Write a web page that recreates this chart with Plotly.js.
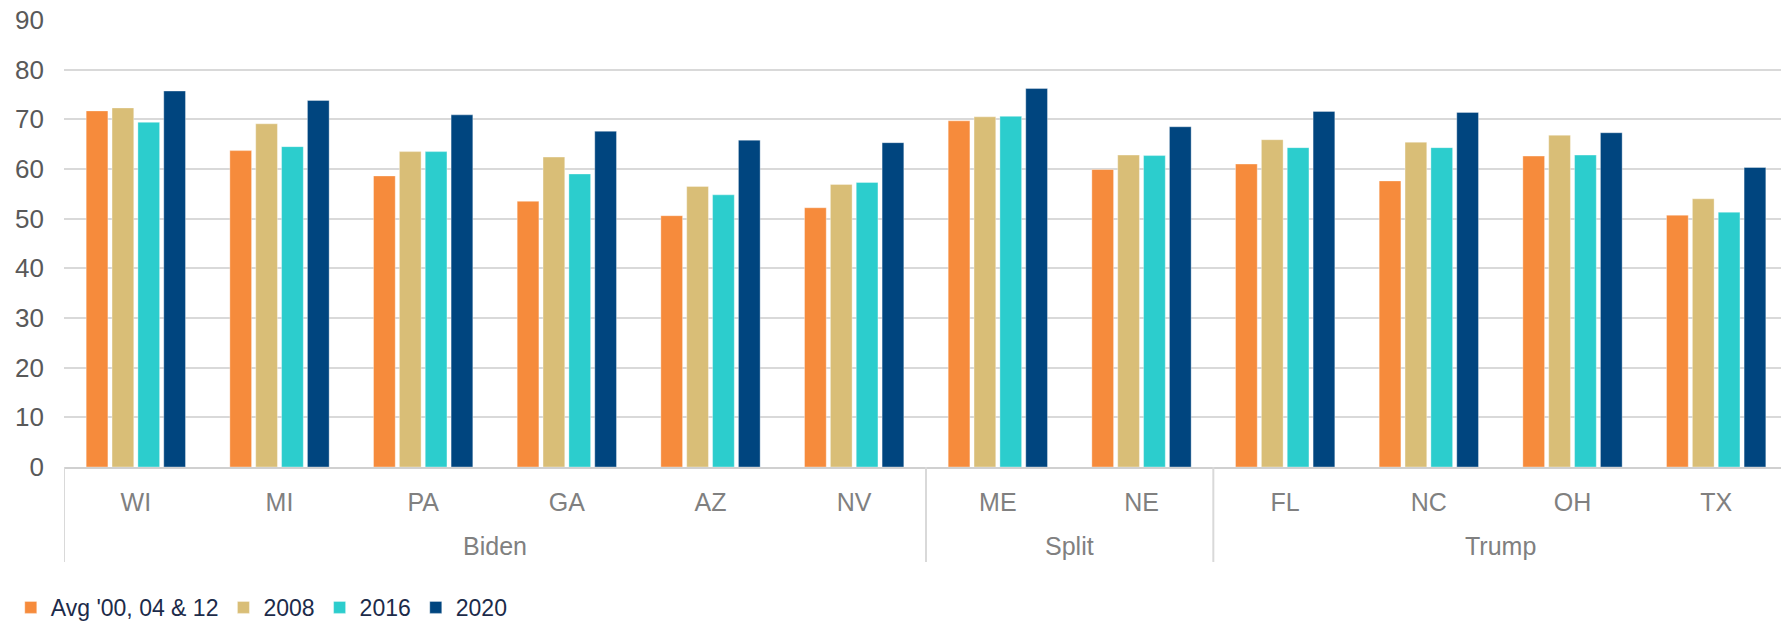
<!DOCTYPE html>
<html>
<head>
<meta charset="utf-8">
<script src="https://cdn.plot.ly/plotly-3.0.1.min.js"></script>
<style>
html,body{margin:0;padding:0;overflow:hidden;background:#fff;}
#chart{width:1795px;height:623px;}
</style>
</head>
<body>
<div id="chart"></div>
<script>
var states = ["WI","MI","PA","GA","AZ","NV","ME","NE","FL","NC","OH","TX"];
var groups = ["Biden","Biden","Biden","Biden","Biden","Biden","Split","Split","Trump","Trump","Trump","Trump"];
var seriesNames = ["Avg '00, 04 & 12","2008","2016","2020"];
var avg0412 = [71.7, 63.7, 58.6, 53.5, 50.6, 52.2, 69.7, 59.9, 61.0, 57.6, 62.6, 50.7];
var y2008   = [72.3, 69.1, 63.5, 62.4, 56.5, 56.9, 70.5, 62.8, 65.9, 65.4, 66.8, 54.0];
var y2016   = [69.4, 64.5, 63.5, 59.0, 54.8, 57.3, 70.6, 62.7, 64.3, 64.3, 62.8, 51.3];
var y2020   = [75.7, 73.8, 70.9, 67.6, 65.8, 65.3, 76.2, 68.5, 71.6, 71.4, 67.3, 60.3];
var yTicks  = [0,10,20,30,40,50,60,70,80,90];

var colors = ["#F68B3C","#D9BE77","#2CCDCD","#00457F"];
var values = [avg0412, y2008, y2016, y2020];

var traces = values.map(function(v, i){
  return {
    type: "bar",
    name: seriesNames[i],
    x: states,
    y: v,
    marker: {color: colors[i], line: {color: "rgba(255,255,255,0.35)", width: 1}},
    hoverinfo: "y+name"
  };
});

// group spans (derived from the groups array, in category-index units)
var spans = [];
groups.forEach(function(g, i){
  if (!spans.length || spans[spans.length-1].name !== g) spans.push({name: g, start: i, end: i});
  else spans[spans.length-1].end = i;
});

var shapes = [];
var annotations = [];
var boundaries = [-0.5];
spans.forEach(function(s){
  boundaries.push(s.end + 0.5);
  annotations.push({
    xref: "x", yref: "paper",
    x: (s.start + s.end) / 2, y: -0.177,
    xanchor: "center", yanchor: "middle",
    text: s.name, showarrow: false,
    font: {size: 25, color: "#808080"}
  });
});
boundaries.forEach(function(b){
  shapes.push({
    type: "line", xref: "x", yref: "paper",
    x0: b, x1: b, y0: 0, y1: -0.2125,
    line: {color: "#D9D9D9", width: 2}
  });
});

var layout = {
  width: 1795,
  height: 623,
  margin: {l: 64, r: 7, t: 20, b: 156, pad: 0},
  paper_bgcolor: "#ffffff",
  plot_bgcolor: "#ffffff",
  font: {family: "Liberation Sans, Arial, sans-serif", size: 23, color: "#595959"},
  barmode: "group",
  bargap: 0.28,
  bargroupgap: 0.16,
  showlegend: true,
  legend: {
    orientation: "h",
    xref: "container", yref: "container",
    x: 0.006, y: 0.025,
    xanchor: "left", yanchor: "middle",
    font: {size: 23, color: "#1C2B4A"},
    itemwidth: 30,
    traceorder: "normal"
  },
  shapes: shapes,
  annotations: annotations,
  xaxis: {
    type: "category",
    categoryorder: "array",
    categoryarray: states,
    range: [-0.5, states.length - 0.5],
    showgrid: false,
    showline: true,
    linecolor: "#D0D0D0",
    linewidth: 2,
    ticks: "",
    ticklabelstandoff: 12,
    tickfont: {size: 25, color: "#808080"},
    fixedrange: true
  },
  yaxis: {
    range: [0, 90],
    tickvals: yTicks,
    ticktext: yTicks.map(String),
    showgrid: true,
    gridcolor: "#D9D9D9",
    gridwidth: 2,
    zeroline: false,
    showline: false,
    ticks: "",
    ticklabelstandoff: 19,
    tickfont: {size: 26, color: "#595959"},
    fixedrange: true
  }
};

Plotly.newPlot("chart", traces, layout, {displayModeBar: false, staticPlot: true});
</script>
</body>
</html>
